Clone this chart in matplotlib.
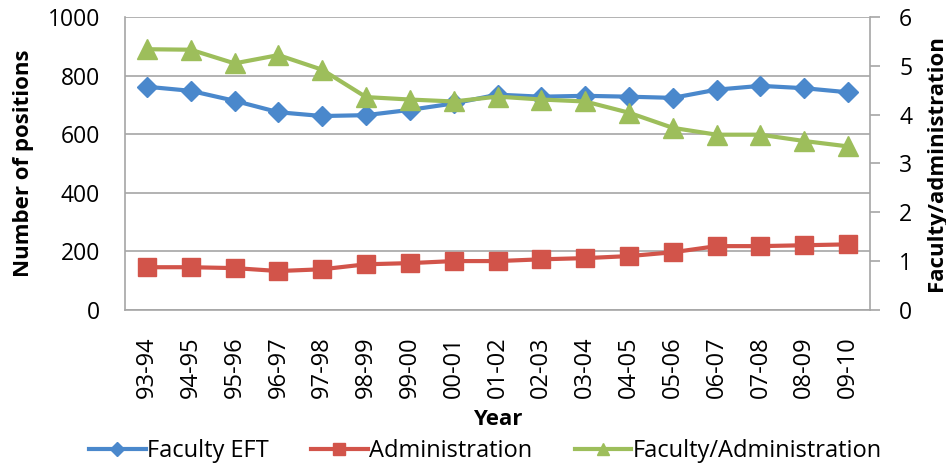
import matplotlib
matplotlib.use("Agg")
import matplotlib.pyplot as plt
from matplotlib.lines import Line2D

plt.rcParams['font.family'] = ['Open Sans', 'DejaVu Sans']

years = ["93-94", "94-95", "95-96", "96-97", "97-98", "98-99", "99-00", "00-01",
         "01-02", "02-03", "03-04", "04-05", "05-06", "06-07", "07-08", "08-09", "09-10"]
faculty_eft = [762, 748, 714, 675, 662, 665, 683, 705, 735, 728, 731, 728, 724,
               752, 765, 757, 743]
administration = [146, 146, 143, 133, 139, 156, 160, 167, 167, 173, 177, 184, 197,
                  218, 218, 221, 224]
ratio = [5.34, 5.33, 5.05, 5.22, 4.92, 4.36, 4.31, 4.27, 4.37, 4.31, 4.27, 4.04,
         3.73, 3.59, 3.59, 3.46, 3.35]

BLUE = "#4A88CC"
RED = "#D2544A"
GREEN = "#9DBE5B"
GRID = "#A6A6A6"

fig = plt.figure(figsize=(9.46, 4.67), dpi=100)
ax = fig.add_axes([125 / 946, 1 - 310 / 467, 745 / 946, 293 / 467])
ax2 = ax.twinx()

x = list(range(len(years)))
ax.plot(x, faculty_eft, color=BLUE, lw=3, marker='D', ms=10, zorder=3)
ax.plot(x, administration, color=RED, lw=3, marker='s', ms=13, zorder=3)
ax2.plot(x, ratio, color=GREEN, lw=3, marker='^', ms=14, zorder=3)

ax.set_xlim(-0.5, len(years) - 0.5)
ax.set_ylim(0, 1000)
ax.set_yticks(range(0, 1001, 200))
ax2.set_ylim(0, 6)
ax2.set_yticks(range(0, 7))

ax.grid(axis='y', color=GRID, lw=1.2)
ax.set_axisbelow(True)

ax.set_xticks(x)
ax.set_xticklabels(years, rotation=90, fontsize=17)
ax.tick_params(axis='x', length=0, pad=19)
ax.tick_params(axis='y', length=0, pad=18, labelsize=16.5)
ax2.tick_params(axis='y', length=7, width=1.2, color=GRID, pad=14, labelsize=16.5)

for s in ['top', 'right']:
    ax.spines[s].set_visible(False)
for s in ['left', 'bottom']:
    ax.spines[s].set_color(GRID)
    ax.spines[s].set_linewidth(1.2)
for s in ['top', 'left', 'bottom']:
    ax2.spines[s].set_visible(False)
ax2.spines['right'].set_color(GRID)
ax2.spines['right'].set_linewidth(1.2)

ax.set_ylabel("Number of positions", fontsize=16, fontweight='bold', labelpad=10)
ax2.set_ylabel("Faculty/administration", fontsize=16, fontweight='bold', labelpad=10)
ax.set_xlabel("Year", fontsize=16, fontweight='bold', labelpad=8)

handles = [
    Line2D([], [], color=BLUE, lw=3, marker='D', ms=7),
    Line2D([], [], color=RED, lw=3, marker='s', ms=9),
    Line2D([], [], color=GREEN, lw=3, marker='^', ms=9),
]
labels = ["Faculty EFT", "Administration", "Faculty/Administration"]
fig.legend(handles, labels, loc='center', bbox_to_anchor=(0.513, 1 - 451 / 467),
           ncol=3, frameon=False, fontsize=17, handlelength=2.4,
           handletextpad=0.05, columnspacing=1.8, borderpad=0.1)

fig.savefig("out.png", dpi=100)
